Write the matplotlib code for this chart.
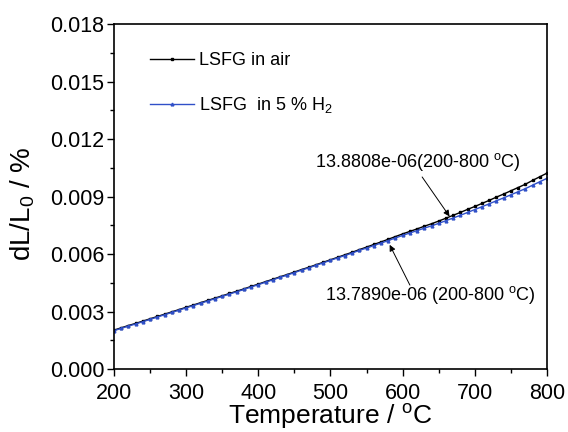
import matplotlib
matplotlib.use("Agg")
import matplotlib.pyplot as plt
from matplotlib.ticker import MultipleLocator, FormatStrFormatter

plt.rcParams['font.family'] = ['Liberation Sans', 'DejaVu Sans']
plt.rcParams['mathtext.fontset'] = 'custom'
plt.rcParams['mathtext.rm'] = 'Liberation Sans'
plt.rcParams['mathtext.it'] = 'Liberation Sans'

temperature = list(range(200, 801, 10))
air = [0.00203, 0.00215, 0.00227, 0.00238, 0.00250, 0.00262, 0.00274, 0.00286, 0.00298, 0.00310,
       0.00322, 0.00334, 0.00346, 0.00358, 0.00370, 0.00382, 0.00394, 0.00406, 0.00418, 0.00431,
       0.00443, 0.00456, 0.00468, 0.00481, 0.00493, 0.00506, 0.00519, 0.00531, 0.00544, 0.00557,
       0.00570, 0.00583, 0.00596, 0.00609, 0.00623, 0.00636, 0.00650, 0.00663, 0.00677, 0.00691,
       0.00705, 0.00718, 0.00731, 0.00745, 0.00758, 0.00772, 0.00787, 0.00802, 0.00817, 0.00833,
       0.00848, 0.00864, 0.00880, 0.00897, 0.00913, 0.00930, 0.00947, 0.00964, 0.00984, 0.01003,
       0.01022]
h2 = [0.00200, 0.00212, 0.00224, 0.00235, 0.00247, 0.00259, 0.00271, 0.00283, 0.00295, 0.00307,
      0.00319, 0.00331, 0.00343, 0.00355, 0.00367, 0.00379, 0.00391, 0.00403, 0.00415, 0.00428,
      0.00440, 0.00453, 0.00465, 0.00478, 0.00490, 0.00503, 0.00516, 0.00528, 0.00541, 0.00554,
      0.00567, 0.00580, 0.00592, 0.00605, 0.00619, 0.00631, 0.00644, 0.00657, 0.00670, 0.00684,
      0.00697, 0.00710, 0.00722, 0.00735, 0.00747, 0.00760, 0.00774, 0.00788, 0.00802, 0.00817,
      0.00832, 0.00847, 0.00862, 0.00878, 0.00893, 0.00909, 0.00925, 0.00941, 0.00959, 0.00977,
      0.00995]

labels = ["LSFG in air", "LSFG  in 5 % H$_2$"]
ann_air = "13.8808e-06(200-800 $^{\\mathrm{o}}$C)"
ann_h2 = "13.7890e-06 (200-800 $^{\\mathrm{o}}$C)"

fig = plt.figure(figsize=(5.68, 4.32), dpi=100)
ax = fig.add_axes([0.2007, 0.1458, 0.7623, 0.7986])

ax.plot(temperature, air, color='black', lw=1.0, marker='s', ms=2.0, label=labels[0])
ax.plot(temperature, h2, color='#3050c8', lw=1.0, marker='^', ms=2.0, label=labels[1])

ax.set_xlim(200, 800)
ax.set_ylim(0, 0.018)
ax.xaxis.set_major_locator(MultipleLocator(100))
ax.xaxis.set_minor_locator(MultipleLocator(50))
ax.yaxis.set_major_locator(MultipleLocator(0.003))
ax.yaxis.set_minor_locator(MultipleLocator(0.0015))
ax.yaxis.set_major_formatter(FormatStrFormatter('%.3f'))
ax.tick_params(which='major', direction='out', length=5, width=1, labelsize=15.5,
               top=False, right=False)
ax.tick_params(axis='x', which='major', pad=5)
ax.tick_params(axis='y', which='major', pad=2)
ax.tick_params(which='minor', direction='out', length=3, width=1, top=False, right=False)
for s in ax.spines.values():
    s.set_linewidth(1.2)

ax.set_xlabel("Temperature / $^{\\mathrm{o}}$C", fontsize=19)
ax.xaxis.set_label_coords(0.5, -0.095)
ax.set_ylabel("dL/L$_0$ / %", fontsize=20)
ax.yaxis.set_label_coords(-0.178, 0.48)

ax.legend(loc='upper left', frameon=False, fontsize=13, handlelength=2.4,
          handletextpad=0.3, labelspacing=1.45, bbox_to_anchor=(0.055, 0.955),
          borderaxespad=0.3)

ax.text(621, 0.0108, ann_air, ha='center', va='center', fontsize=13)
ax.annotate("", xy=(665, 0.00796), xytext=(627, 0.01002),
            arrowprops=dict(arrowstyle='-|>', color='black', lw=0.7, mutation_scale=9,
                            shrinkA=0, shrinkB=0))
ax.text(639, 0.00386, ann_h2, ha='center', va='center', fontsize=13)
ax.annotate("", xy=(582, 0.00648), xytext=(610, 0.00438),
            arrowprops=dict(arrowstyle='-|>', color='black', lw=0.7, mutation_scale=9,
                            shrinkA=0, shrinkB=0))

fig.savefig("out.png", dpi=100)
